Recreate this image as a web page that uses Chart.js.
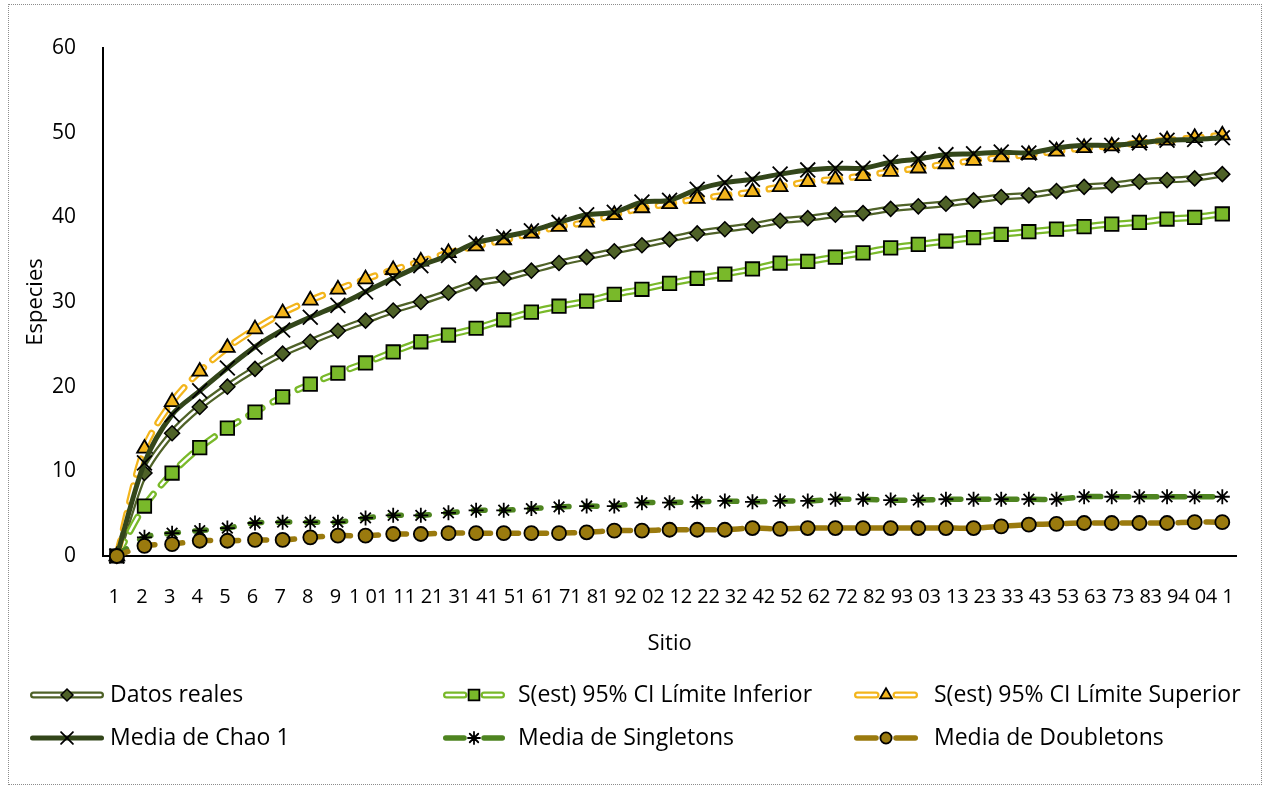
<!DOCTYPE html>
<html>
<head>
<meta charset="utf-8">
<title>Curva de acumulación de especies</title>
<script src="https://cdn.jsdelivr.net/npm/chart.js@4.4.1/dist/chart.umd.min.js"></script>
<style>
  html, body { margin: 0; padding: 0; background: #ffffff; }
  #wrap { position: relative; width: 1263px; height: 788px; }
  #frame { position: absolute; left: 8px; top: 4px; width: 1252px; height: 779px;
           border: 1px dotted #8c8c8c; pointer-events: none; }
  #c { position: absolute; left: 0; top: 0; }
</style>
</head>
<body>
<div id="wrap">
  <canvas id="c" width="1263" height="788"></canvas>
  <div id="frame"></div>
</div>
<script>
// Sampling sites (x categories)
const sitios = ['1','2','3','4','5','6','7','8','9','10','11','12','13','14','15','16','17','18','19','20',
                '21','22','23','24','25','26','27','28','29','30','31','32','33','34','35','36','37','38','39','40','41'];

// Accumulated species per site
const datosReales = [0, 9.8, 14.5, 17.6, 20.0, 22.1, 23.9, 25.3, 26.6, 27.8, 29.0,
                     30.0, 31.1, 32.2, 32.8, 33.7, 34.6, 35.3, 36.0, 36.7, 37.4, 38.1, 38.6, 39.0, 39.6, 39.9, 40.3,
                     40.5, 41.0, 41.3, 41.6, 42.0, 42.4, 42.6, 43.1, 43.6, 43.8, 44.2, 44.4, 44.6, 45.1];
const limiteInferior = [0, 5.9, 9.8, 12.8, 15.1, 17.0, 18.8, 20.3, 21.6, 22.8, 24.1,
                        25.3, 26.1, 26.9, 27.9, 28.8, 29.5, 30.1, 30.9, 31.5, 32.2, 32.8, 33.3, 33.9, 34.6, 34.8, 35.3,
                        35.8, 36.4, 36.8, 37.2, 37.6, 38.0, 38.3, 38.6, 38.9, 39.2, 39.4, 39.8, 40.0, 40.4];
const limiteSuperior = [0, 12.7, 18.2, 21.8, 24.6, 26.8, 28.7, 30.2, 31.5, 32.7, 33.8,
                        34.8, 35.8, 36.6, 37.3, 38.1, 38.9, 39.4, 40.3, 41.1, 41.6, 42.2, 42.6, 43.0, 43.6, 44.2, 44.5,
                        44.9, 45.4, 45.8, 46.3, 46.7, 47.1, 47.4, 47.8, 48.2, 48.4, 48.8, 49.1, 49.4, 49.7];
const chao1 = [0, 11.0, 16.7, 19.5, 22.2, 24.7, 26.7, 28.2, 29.6, 31.2, 32.8,
               34.3, 35.5, 37.0, 37.7, 38.4, 39.4, 40.3, 40.6, 41.8, 42.0, 43.3, 44.1, 44.5, 45.1, 45.6, 45.8,
               45.8, 46.5, 46.9, 47.4, 47.5, 47.7, 47.6, 48.2, 48.5, 48.5, 48.8, 49.1, 49.2, 49.4];
const singletons = [0, 2.2, 2.7, 3.0, 3.3, 3.9, 4.0, 4.0, 4.0, 4.5, 4.8, 4.8, 5.1, 5.4,
                    5.4, 5.6, 5.8, 5.9, 5.9, 6.3, 6.3, 6.4, 6.5, 6.4, 6.5, 6.5, 6.7, 6.7,
                    6.6, 6.6, 6.7, 6.7, 6.7, 6.7, 6.7, 7.0, 7.0, 7.0, 7.0, 7.0, 7.0];
const doubletons = [0, 1.2, 1.4, 1.8, 1.8, 1.9, 1.9, 2.2, 2.4, 2.4, 2.6, 2.6, 2.7, 2.7,
                    2.7, 2.7, 2.7, 2.8, 3.0, 3.0, 3.1, 3.1, 3.1, 3.3, 3.2, 3.3, 3.3, 3.3,
                    3.3, 3.3, 3.3, 3.3, 3.5, 3.7, 3.8, 3.9, 3.9, 3.9, 3.9, 4.0, 4.0];

// Axis settings
const yMin = 0, yMax = 60, yStep = 10;
const xTitle = 'Sitio', yTitle = 'Especies';

const FONT = '"Open Sans", "Noto Sans", "DejaVu Sans", sans-serif';

// Series styling (drawn in this order, later ones on top)
const series = [
  { label: 'Datos reales', data: datosReales, color: '#4F6228', width: 7, inner: 2.5, dash: null,
    pointStyle: 'rectRot', radius: 7.5, fill: '#4F6228', pbw: 1.5 },
  { label: 'S(est) 95% CI Límite Inferior', data: limiteInferior, color: '#79B92A', width: 7, inner: 2.5, dash: [16, 12],
    pointStyle: 'rect', radius: 9.5, fill: '#79B92A', pbw: 1.8 },
  { label: 'S(est) 95% CI Límite Superior', data: limiteSuperior, color: '#F3B51C', width: 7, inner: 2.5, dash: [16, 12],
    pointStyle: 'triangle', radius: 8.5, fill: '#F3B51C', pbw: 1.8 },
  { label: 'Media de Chao 1', data: chao1, color: '#33461A', width: 5, inner: 0, dash: null,
    pointStyle: 'crossRot', radius: 10.5, fill: '#000000', pbw: 1.8 },
  { label: 'Media de Singletons', data: singletons, color: '#4E8420', width: 5.5, inner: 0, dash: [12, 16],
    pointStyle: 'star', radius: 7.5, fill: '#000000', pbw: 1.8 },
  { label: 'Media de Doubletons', data: doubletons, color: '#9A7A0E', width: 5.5, inner: 0, dash: [12, 16],
    pointStyle: 'circle', radius: 7, fill: '#9A7A0E', pbw: 1.8 }
];

// Build Chart.js datasets; double lines get a white centre stroke on top
const datasets = [];
let order = 100;
series.forEach(s => {
  const base = {
    label: s.label, data: s.data, borderColor: s.color, borderWidth: s.width,
    borderDash: s.dash || [], borderCapStyle: 'round', borderJoinStyle: 'round',
    tension: 0.3, fill: false, clip: false
  };
  const markers = {
    pointStyle: s.pointStyle, pointRadius: s.radius, pointHoverRadius: s.radius,
    pointBackgroundColor: s.fill, pointBorderColor: '#000000', pointBorderWidth: s.pbw
  };
  if (s.inner) {
    datasets.push(Object.assign({}, base, { pointRadius: 0, pointHoverRadius: 0, order: order-- }));
    datasets.push(Object.assign({}, base, markers, {
      borderColor: '#FFFFFF', borderWidth: s.inner, order: order--
    }));
  } else {
    datasets.push(Object.assign({}, base, markers, { order: order-- }));
  }
});

// Legend laid out in three fixed columns and two rows below the plot
const LEGEND_COLS = [
  { x: 30, len: 74, text: 110, gap: 10 },
  { x: 443, len: 62, text: 518, gap: 10 },
  { x: 854, len: 64, text: 934, gap: 10 }
];
const LEGEND_ROWS = [695, 738];

const columnLegend = {
  id: 'columnLegend',
  afterDraw(chart) {
    const ctx = chart.ctx;
    ctx.save();
    series.forEach((s, i) => {
      const col = LEGEND_COLS[i % 3];
      const y = LEGEND_ROWS[Math.floor(i / 3)];
      const x0 = col.x, x1 = col.x + col.len, xm = (x0 + x1) / 2;
      const half = s.width / 2;
      ctx.setLineDash([]);
      ctx.lineCap = 'round';
      const seg = (a, b, color, w) => {
        ctx.strokeStyle = color; ctx.lineWidth = w;
        ctx.beginPath(); ctx.moveTo(a, y); ctx.lineTo(b, y); ctx.stroke();
      };
      const pieces = s.dash ? [[x0 + half, xm - col.gap], [xm + col.gap, x1 - half]] : [[x0 + half, x1 - half]];
      pieces.forEach(p => seg(p[0], p[1], s.color, s.width));
      if (s.inner) pieces.forEach(p => seg(p[0], p[1], '#FFFFFF', s.inner));
      ctx.fillStyle = s.fill;
      ctx.strokeStyle = '#000000';
      ctx.lineWidth = s.pbw;
      Chart.helpers.drawPoint(ctx, {
        pointStyle: s.pointStyle, radius: s.radius * 0.8, borderWidth: s.pbw, rotation: 0
      }, xm, y);
      ctx.fillStyle = '#000000';
      ctx.font = '23px ' + FONT;
      ctx.textBaseline = 'middle';
      ctx.textAlign = 'left';
      ctx.fillText(s.label, col.text, y);
    });
    ctx.restore();
  }
};

// Category labels on the x axis are set with extra letter spacing
const spacedXLabels = {
  id: 'spacedXLabels',
  beforeDraw(chart) {
    const sc = chart.scales.x;
    if (sc && !sc.__spaced) {
      const orig = sc.drawLabels;
      sc.drawLabels = function (area) {
        const c = this.ctx;
        c.save();
        c.letterSpacing = '5px';
        orig.call(this, area);
        c.restore();
      };
      sc.__spaced = true;
    }
  }
};

new Chart(document.getElementById('c'), {
  type: 'line',
  data: { labels: sitios, datasets: datasets },
  plugins: [spacedXLabels, columnLegend],
  options: {
    responsive: false,
    animation: false,
    events: [],
    layout: { padding: { left: 10, right: 21, top: 48, bottom: 122 } },
    plugins: { legend: { display: false }, tooltip: { enabled: false } },
    scales: {
      x: {
        type: 'category', offset: true,
        grid: { display: false, drawTicks: false },
        border: { display: true, color: '#000000', width: 2 },
        ticks: { autoSkip: false, maxRotation: 0, minRotation: 0, color: '#000000',
                 font: { family: FONT, size: 20 }, padding: 29 },
        title: { display: true, text: xTitle, color: '#000000',
                 font: { family: FONT, size: 22 }, padding: { top: 0, bottom: 9 } },
        afterFit(s) { s.height = 110; }
      },
      y: {
        min: yMin, max: yMax,
        grid: { display: false, drawTicks: false },
        border: { display: true, color: '#000000', width: 2 },
        ticks: { stepSize: yStep, color: '#000000', font: { family: FONT, size: 21 }, padding: 27 },
        title: { display: true, text: yTitle, color: '#000000',
                 font: { family: FONT, size: 22 }, padding: { top: 13, bottom: 0 } },
        afterFit(s) { s.width = 93; }
      }
    }
  }
});
</script>
</body>
</html>
